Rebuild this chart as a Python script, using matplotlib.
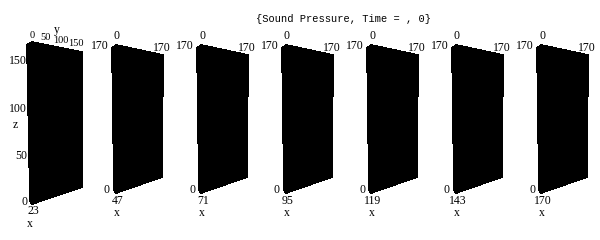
import matplotlib
matplotlib.use('Agg')
import matplotlib.pyplot as plt
from matplotlib.patches import Polygon
import numpy as np

# ── data ──────────────────────────────────────────────────────────────
slice_x = [23, 47, 71, 95, 119, 143, 170]      # x position of each slab
y_range = [0, 170]
z_range = [0, 170]
y_ticks_first = [0, 50, 100, 150]
z_ticks_first = [0, 50, 100, 150]
title = '{Sound Pressure, Time = , 0}'

# ── projection (pixel geometry of each panel's slab face) ─────────────
# corners: top-left, top-right, bottom-right, bottom-left (pixels)
first_face = [(32, 42), (82, 52), (82, 187), (32, 204)]
other_face = [(116, 45), (163, 55), (162, 177), (116, 193)]
panel_step = 85
y_tick_dx = [0, -1, -1, 0]   # nudge crowded first-panel y labels


def project(i, y, z):
    face = first_face if i == 0 else [(px + (i - 1) * panel_step, py)
                                      for px, py in other_face]
    tl, tr, br, bl = [np.array(c, float) for c in face]
    u = (y - y_range[0]) / (y_range[1] - y_range[0])
    v = (z - z_range[0]) / (z_range[1] - z_range[0])
    return (1 - u) * (1 - v) * bl + u * (1 - v) * br + (1 - u) * v * tl + u * v * tr


fig = plt.figure(figsize=(6, 2.4), dpi=100)
ax = fig.add_axes([0, 0, 1, 1])
ax.set_xlim(0, 600)
ax.set_ylim(240, 0)
ax.axis('off')

lab = dict(fontsize=8.5, family='Liberation Serif', color='black')

for i, xv in enumerate(slice_x):
    y0, y1 = y_range
    z0, z1 = z_range
    tl = project(i, y0, z1)
    tr = project(i, y1, z1)
    br = project(i, y1, z0)
    bl = project(i, y0, z0)
    back = (-5, 3) if i == 0 else (-4, 3)
    pts = [tl + back, tl, tr, br, bl, bl + (-2, -3)]
    ax.add_patch(Polygon(pts, closed=True, facecolor='black',
                         edgecolor='black', lw=0.5, antialiased=False))

    if i == 0:
        # y axis ticks along the top edge (crowded, so a bit smaller)
        for yt, dx in zip(y_ticks_first, y_tick_dx):
            p = project(i, yt, z1)
            ax.text(p[0] + dx, p[1] - 7, str(yt), ha='center', va='center',
                    fontsize=7.5, family='Liberation Serif')
        ax.text(57, 30, 'y', ha='center', va='center', **lab)
        # z axis ticks along the left edge
        for zt in z_ticks_first[1:]:
            p = project(i, y0, zt)
            ax.text(p[0] - 5, p[1], str(zt), ha='right', va='center', **lab)
        ax.text(15, 125, 'z', ha='center', va='center', **lab)
        ax.text(bl[0] - 5, bl[1] - 2, '0', ha='right', va='center', **lab)
        ax.text(bl[0] + 1, bl[1] + 7, str(xv), ha='center', va='center', **lab)
        ax.text(bl[0] - 2, bl[1] + 20, 'x', ha='center', va='center', **lab)
    else:
        ax.text(tl[0] + 1, tl[1] - 9, '0', ha='center', va='center', **lab)
        ax.text(tl[0] - 7, tl[1] + 1, str(z_range[1]), ha='right', va='center', **lab)
        ax.text(tr[0] - 1, tr[1] - 7, str(y_range[1]), ha='center', va='center', **lab)
        ax.text(bl[0] - 6, bl[1] - 3, '0', ha='right', va='center', **lab)
        ax.text(bl[0] + 2, bl[1] + 8, str(xv), ha='center', va='center', **lab)
        ax.text(bl[0] + 1, bl[1] + 20, 'x', ha='center', va='center', **lab)

ax.text(344, 19, title, ha='center', va='center', fontsize=7.5,
        family='Liberation Mono', color='black')

fig.savefig('out.png', dpi=100, facecolor='white')
